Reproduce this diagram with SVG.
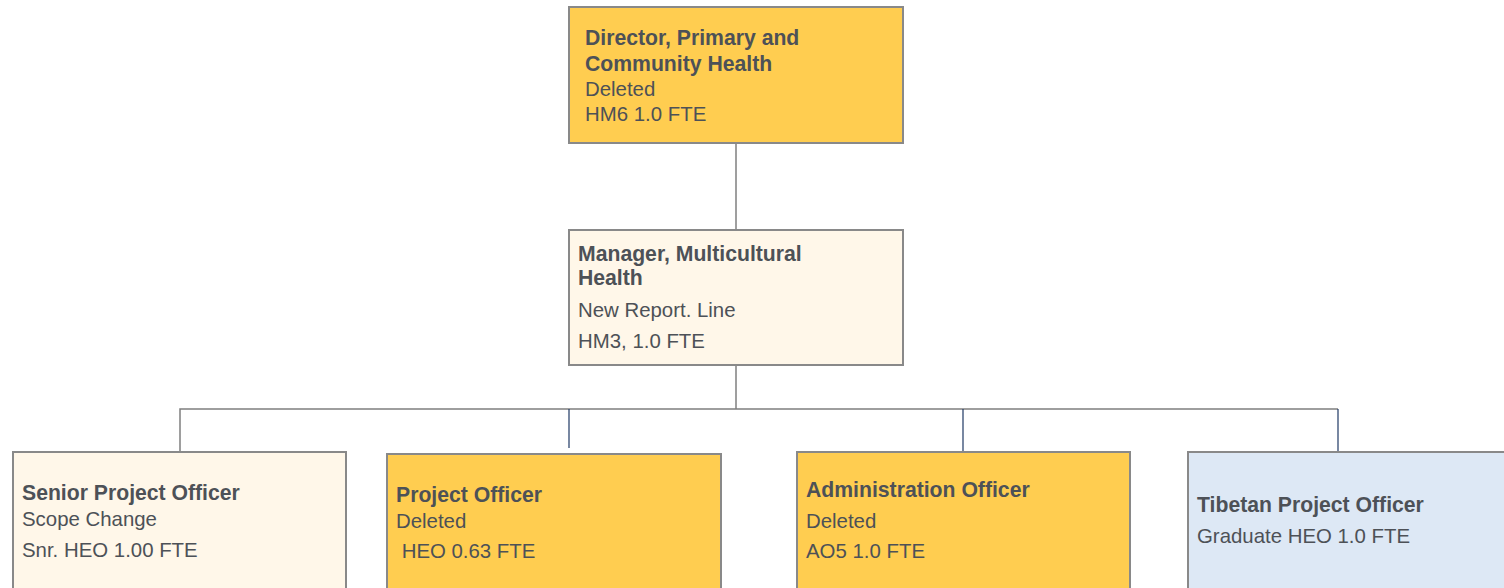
<svg xmlns="http://www.w3.org/2000/svg" width="1504" height="588" viewBox="0 0 1504 588">
<style>
.box{stroke:#898989;stroke-width:2}
.gold{fill:#FFCD50}
.cream{fill:#FFF7E9}
.blue{fill:#DDE8F5}
text{font-family:"Liberation Sans",Arial,sans-serif;font-size:20.4px;fill:#4D5157}
.b{font-weight:bold;font-size:21.2px}
.c{fill:none;stroke:#7F7F7F;stroke-width:1.5}
.n{fill:none;stroke:#1F3864;stroke-width:1.2}
</style>
<rect width="1504" height="588" fill="#FFFFFF"/>
<g id="connectors">
<path class="c" d="M736 143V230"/>
<path class="c" d="M736 365V409"/>
<path class="c" d="M180 452V409H1338"/>
<path class="n" d="M569 409V448"/>
<path class="n" d="M963 409V452"/>
<path class="n" d="M1338 409V452"/>
</g>
<g id="director">
<rect class="box gold" x="569" y="7" width="334" height="136"/>
<text x="585" y="45" class="b">Director, Primary and</text>
<text x="585" y="71" class="b">Community Health</text>
<text x="585" y="96">Deleted</text>
<text x="585" y="121">HM6 1.0 FTE</text>
</g>
<g id="manager">
<rect class="box cream" x="569" y="230" width="334" height="135"/>
<text x="578" y="261" class="b">Manager, Multicultural</text>
<text x="578" y="285" class="b">Health</text>
<text x="578" y="317">New Report. Line</text>
<text x="578" y="348">HM3, 1.0 FTE</text>
</g>
<g id="senior">
<rect class="box cream" x="13" y="452" width="333" height="145"/>
<text x="22" y="500" class="b">Senior Project Officer</text>
<text x="22" y="526">Scope Change</text>
<text x="22" y="557">Snr. HEO 1.00 FTE</text>
</g>
<g id="project">
<rect class="box gold" x="387" y="454" width="334" height="145"/>
<text x="396" y="502" class="b">Project Officer</text>
<text x="396" y="528">Deleted</text>
<text x="396" y="558" xml:space="preserve"> HEO 0.63 FTE</text>
</g>
<g id="admin">
<rect class="box gold" x="797" y="452" width="333" height="145"/>
<text x="806" y="497" class="b">Administration Officer</text>
<text x="806" y="528">Deleted</text>
<text x="806" y="558">AO5 1.0 FTE</text>
</g>
<g id="tibetan">
<rect class="box blue" x="1188" y="452" width="330" height="145"/>
<text x="1197" y="512" class="b">Tibetan Project Officer</text>
<text x="1197" y="543">Graduate HEO 1.0 FTE</text>
</g>
</svg>
